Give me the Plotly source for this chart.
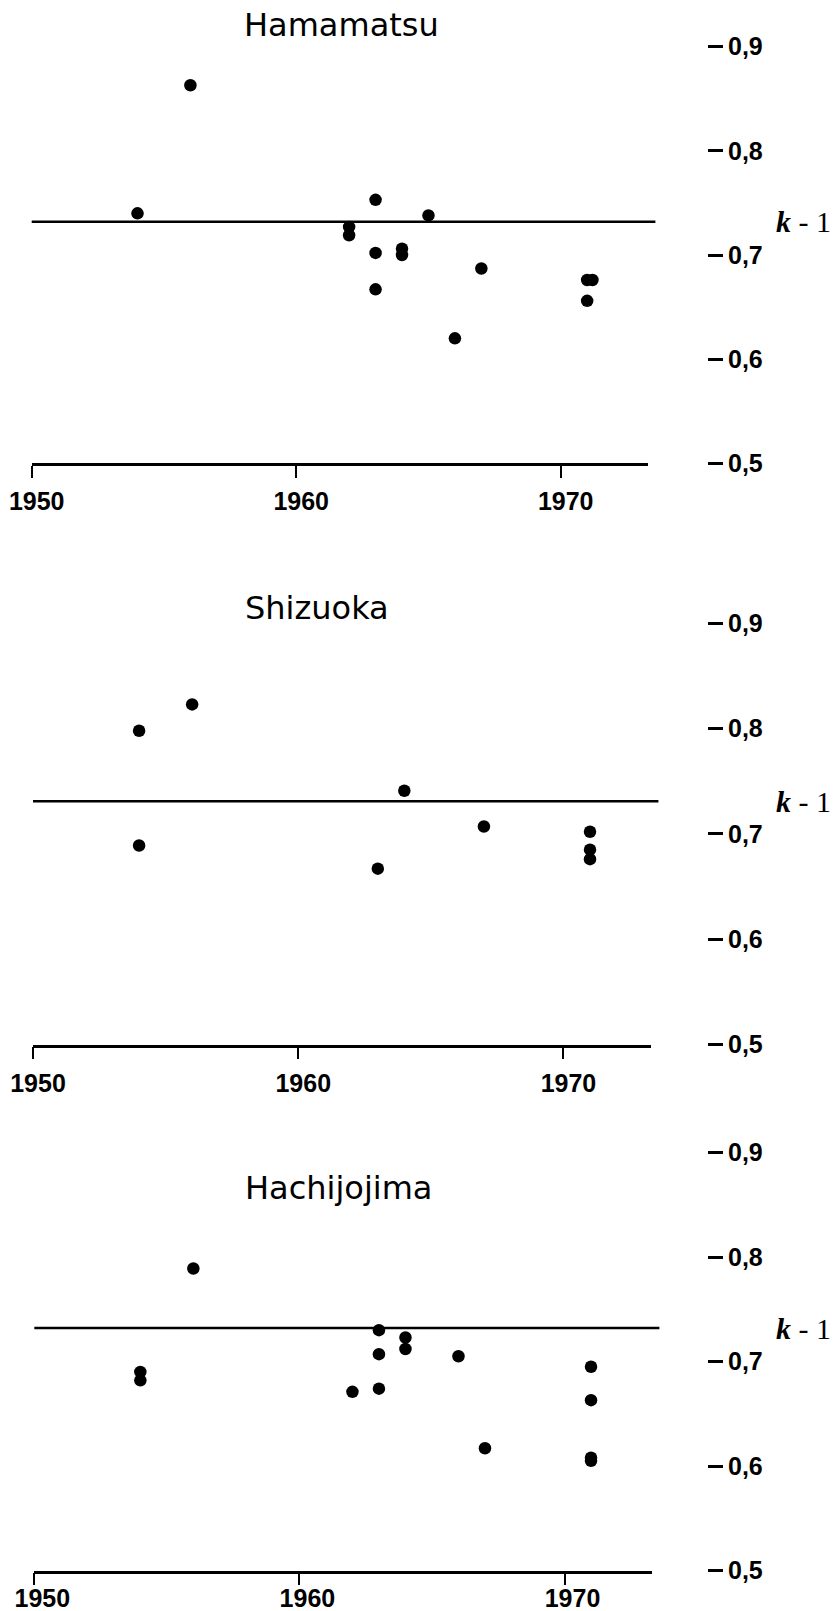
import plotly.graph_objects as go

W, H = 835, 1611

# ---------------- data ----------------
stations = ["Hamamatsu", "Shizuoka", "Hachijojima"]

hamamatsu_year = [1954, 1956, 1962, 1962, 1963, 1963, 1963, 1964, 1964, 1965, 1966, 1967, 1971, 1971.2, 1971]
hamamatsu_val = [0.740, 0.863, 0.727, 0.719, 0.753, 0.702, 0.667, 0.706, 0.700, 0.738, 0.620, 0.687, 0.676, 0.676, 0.656]

shizuoka_year = [1954, 1954, 1956, 1963, 1964, 1967, 1971, 1971, 1971]
shizuoka_val = [0.798, 0.689, 0.823, 0.667, 0.741, 0.707, 0.702, 0.685, 0.676]

hachijojima_year = [1954, 1954, 1956, 1962, 1963, 1963, 1963, 1964, 1964, 1966, 1967, 1971, 1971, 1971, 1971]
hachijojima_val = [0.690, 0.682, 0.789, 0.671, 0.730, 0.707, 0.674, 0.723, 0.712, 0.705, 0.617, 0.695, 0.663, 0.608, 0.605]

reference_level = [0.732, 0.731, 0.732]   # the horizontal line, labelled k-1

x_ticks = [1950, 1960, 1970]
x_ticktext = ["1950", "1960", "1970"]
y_ticks = [0.5, 0.6, 0.7, 0.8, 0.9]
y_ticktext = ["0,5", "0,6", "0,7", "0,8", "0,9"]

years = [hamamatsu_year, shizuoka_year, hachijojima_year]
values = [hamamatsu_val, shizuoka_val, hachijojima_val]

# ---------------- layout geometry (pixels) ----------------
x_dom_px = [(31.7, 648), (33.0, 651), (34.3, 652)]
y_dom_px = [(463.3, 46.7), (1044.5, 623.3), (1570.5, 1152.5)]  # (pixel of 0.5, pixel of 0.9)
x_label_standoff = [2, 3, -8]
x_label_shift = [5, 5, 8]
title_px = [(242, 25), (243, 608), (243, 1188)]
yaxis_pos_px = 707
klabel_x_px = 803

tick_font = dict(family="Liberation Sans, Arial", size=25, color="black", weight="bold")

fig = go.Figure()
layout = dict(
    width=W, height=H,
    margin=dict(l=0, r=0, t=0, b=0, pad=0, autoexpand=False),
    paper_bgcolor="white", plot_bgcolor="white",
    showlegend=False,
    shapes=[], annotations=[],
)

for i in range(3):
    n = "" if i == 0 else str(i + 1)
    xa, ya = "x" + n, "y" + n
    fig.add_trace(go.Scatter(
        x=years[i], y=values[i], mode="markers",
        marker=dict(size=12.5, color="black", line=dict(width=0)),
        xaxis=xa, yaxis=ya, hoverinfo="x+y",
    ))
    x0, x1 = x_dom_px[i]
    yb, yt = y_dom_px[i]
    layout["xaxis" + n] = dict(
        domain=[x0 / W, x1 / W], range=[1950, 1973.3], anchor=ya,
        automargin=False,
        showline=True, linecolor="black", linewidth=2.5,
        ticks="outside", ticklen=12, tickwidth=2, tickcolor="black",
        tickvals=x_ticks, ticktext=x_ticktext, tickfont=tick_font,
        ticklabelshift=x_label_shift[i], ticklabelstandoff=x_label_standoff[i],
        showgrid=False, zeroline=False, fixedrange=True,
    )
    layout["yaxis" + n] = dict(
        domain=[1 - yb / H, 1 - yt / H], range=[0.5, 0.9],
        anchor="free", position=yaxis_pos_px / W, side="right",
        automargin=False,
        showline=False, ticks="outside", ticklen=15, tickwidth=2.5, tickcolor="black",
        tickvals=y_ticks, ticktext=y_ticktext, tickfont=tick_font,
        showgrid=False, zeroline=False, fixedrange=True,
    )
    layout["shapes"].append(dict(
        type="line", xref=xa + " domain", yref=ya,
        x0=0, x1=1.012, y0=reference_level[i], y1=reference_level[i],
        line=dict(color="black", width=2.5),
    ))
    tx, ty = title_px[i]
    layout["annotations"].append(dict(
        xref="paper", yref="paper", x=tx / W, y=1 - ty / H,
        xanchor="left", yanchor="middle", showarrow=False,
        text=stations[i],
        font=dict(family="DejaVu Sans", size=32, color="black"),
    ))
    layout["annotations"].append(dict(
        xref="paper", yref=ya, x=klabel_x_px / W, y=reference_level[i],
        xanchor="center", yanchor="middle", showarrow=False,
        text="<b><i>k</i></b> - 1",
        font=dict(family="Liberation Serif", size=30, color="black"),
    ))

fig.update_layout(**layout)
fig.write_html(
    "out.html",
    config={"displayModeBar": False},
    post_script="document.body.style.margin='0px';document.body.style.padding='0px';",
)
